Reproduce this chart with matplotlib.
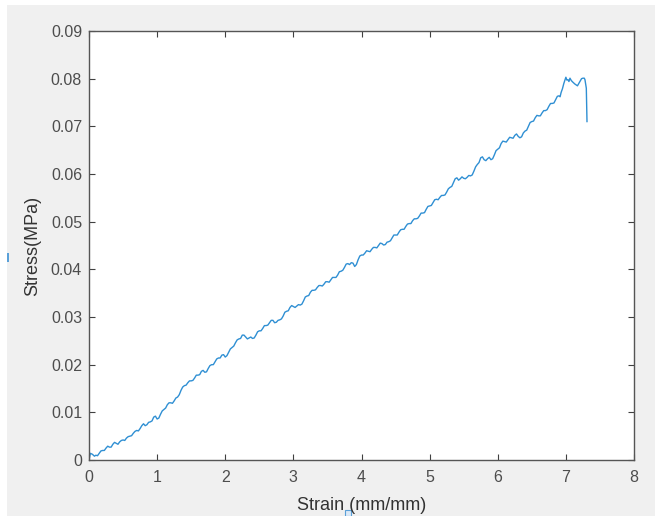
import matplotlib
matplotlib.use("Agg")
import matplotlib.pyplot as plt
from matplotlib.patches import Rectangle

strain = [0.00, 0.02, 0.05, 0.08,
          0.100, 0.125, 0.150, 0.175, 0.200, 0.225, 0.250, 0.275, 0.300, 0.325, 0.350, 0.375,
          0.400, 0.425, 0.450, 0.475, 0.500, 0.525, 0.550, 0.575, 0.600, 0.625, 0.650, 0.675,
          0.700, 0.725, 0.750, 0.775, 0.800, 0.825, 0.850, 0.875, 0.900, 0.925, 0.950, 0.975,
          1.000, 1.025, 1.050, 1.075, 1.100, 1.125, 1.150, 1.175, 1.200, 1.225, 1.250, 1.275,
          1.300, 1.325, 1.350, 1.375, 1.400, 1.425, 1.450, 1.475, 1.500, 1.525, 1.550, 1.575,
          1.600, 1.625, 1.650, 1.675, 1.700, 1.725, 1.750, 1.775, 1.800, 1.825, 1.850, 1.875,
          1.900, 1.925, 1.950, 1.975, 2.000, 2.025, 2.050, 2.075, 2.100, 2.125, 2.150, 2.175,
          2.200, 2.225, 2.250, 2.275, 2.300, 2.325, 2.350, 2.375, 2.400, 2.425, 2.450, 2.475,
          2.500, 2.525, 2.550, 2.575, 2.600, 2.625, 2.650, 2.675, 2.700, 2.725, 2.750, 2.775,
          2.800, 2.825, 2.850, 2.875, 2.900, 2.925, 2.950, 2.975, 3.000, 3.025, 3.050, 3.075,
          3.100, 3.125, 3.150, 3.175, 3.200, 3.225, 3.250, 3.275, 3.300, 3.325, 3.350, 3.375,
          3.400, 3.425, 3.450, 3.475, 3.500, 3.525, 3.550, 3.575, 3.600, 3.625, 3.650, 3.675,
          3.700, 3.725, 3.750, 3.775, 3.800, 3.825, 3.850, 3.875, 3.900, 3.925, 3.950, 3.975,
          4.000, 4.025, 4.050, 4.075, 4.100, 4.125, 4.150, 4.175, 4.200, 4.225, 4.250, 4.275,
          4.300, 4.325, 4.350, 4.375, 4.400, 4.425, 4.450, 4.475, 4.500, 4.525, 4.550, 4.575,
          4.600, 4.625, 4.650, 4.675, 4.700, 4.725, 4.750, 4.775, 4.800, 4.825, 4.850, 4.875,
          4.900, 4.925, 4.950, 4.975, 5.000, 5.025, 5.050, 5.075, 5.100, 5.125, 5.150, 5.175,
          5.200, 5.225, 5.250, 5.275, 5.300, 5.325, 5.350, 5.375, 5.400, 5.425, 5.450, 5.475,
          5.500, 5.525, 5.550, 5.575, 5.600, 5.625, 5.650, 5.675, 5.700, 5.725, 5.750, 5.775,
          5.800, 5.825, 5.850, 5.875, 5.900, 5.925, 5.950, 5.975, 6.000, 6.025, 6.050, 6.075,
          6.100, 6.125, 6.150, 6.175, 6.200, 6.225, 6.250, 6.275, 6.300, 6.325, 6.350, 6.375,
          6.400, 6.425, 6.450, 6.475, 6.500, 6.525, 6.550, 6.575, 6.600, 6.625, 6.650, 6.675,
          6.700, 6.725, 6.750, 6.775, 6.800, 6.825, 6.850, 6.875, 6.900, 6.915, 6.930, 6.950,
          6.970, 7.000, 7.015, 7.030, 7.045, 7.060, 7.080, 7.100, 7.130, 7.170, 7.190, 7.210,
          7.230, 7.250, 7.270, 7.280, 7.300, 7.310]

stress = [0.0000, 0.0014, 0.0012, 0.0008,
          0.0010, 0.0009, 0.0014, 0.0019, 0.0020, 0.0020, 0.0025, 0.0029, 0.0027, 0.0027, 0.0033, 0.0037,
          0.0035, 0.0033, 0.0038, 0.0041, 0.0042, 0.0041, 0.0046, 0.0049, 0.0050, 0.0051, 0.0056, 0.0060,
          0.0062, 0.0061, 0.0066, 0.0072, 0.0076, 0.0072, 0.0074, 0.0079, 0.0080, 0.0082, 0.0090, 0.0092,
          0.0086, 0.0088, 0.0096, 0.0103, 0.0106, 0.0109, 0.0116, 0.0120, 0.0120, 0.0119, 0.0124, 0.0130,
          0.0132, 0.0137, 0.0146, 0.0153, 0.0156, 0.0157, 0.0162, 0.0166, 0.0166, 0.0167, 0.0172, 0.0178,
          0.0178, 0.0179, 0.0186, 0.0188, 0.0184, 0.0185, 0.0192, 0.0198, 0.0200, 0.0200, 0.0206, 0.0212,
          0.0214, 0.0214, 0.0220, 0.0221, 0.0216, 0.0219, 0.0226, 0.0233, 0.0236, 0.0239, 0.0246, 0.0252,
          0.0254, 0.0255, 0.0262, 0.0262, 0.0258, 0.0254, 0.0256, 0.0258, 0.0255, 0.0256, 0.0262, 0.0269,
          0.0271, 0.0271, 0.0276, 0.0282, 0.0282, 0.0283, 0.0288, 0.0293, 0.0293, 0.0288, 0.0289, 0.0293,
          0.0294, 0.0296, 0.0302, 0.0310, 0.0312, 0.0313, 0.0320, 0.0324, 0.0322, 0.0320, 0.0323, 0.0326,
          0.0325, 0.0327, 0.0334, 0.0342, 0.0344, 0.0345, 0.0352, 0.0356, 0.0356, 0.0357, 0.0362, 0.0366,
          0.0366, 0.0365, 0.0369, 0.0374, 0.0374, 0.0373, 0.0378, 0.0383, 0.0383, 0.0383, 0.0388, 0.0395,
          0.0396, 0.0398, 0.0404, 0.0411, 0.0412, 0.0410, 0.0414, 0.0413, 0.0406, 0.0410, 0.0420, 0.0428,
          0.0430, 0.0430, 0.0434, 0.0439, 0.0438, 0.0437, 0.0442, 0.0446, 0.0446, 0.0445, 0.0450, 0.0455,
          0.0454, 0.0451, 0.0452, 0.0457, 0.0458, 0.0460, 0.0466, 0.0472, 0.0472, 0.0472, 0.0478, 0.0483,
          0.0484, 0.0484, 0.0490, 0.0495, 0.0496, 0.0496, 0.0502, 0.0506, 0.0506, 0.0507, 0.0512, 0.0518,
          0.0518, 0.0519, 0.0526, 0.0532, 0.0533, 0.0534, 0.0540, 0.0546, 0.0547, 0.0546, 0.0551, 0.0555,
          0.0555, 0.0556, 0.0562, 0.0569, 0.0572, 0.0574, 0.0582, 0.0590, 0.0592, 0.0587, 0.0590, 0.0594,
          0.0591, 0.0590, 0.0593, 0.0597, 0.0596, 0.0598, 0.0606, 0.0615, 0.0620, 0.0624, 0.0634, 0.0636,
          0.0630, 0.0628, 0.0632, 0.0635, 0.0630, 0.0632, 0.0640, 0.0649, 0.0652, 0.0655, 0.0664, 0.0669,
          0.0668, 0.0667, 0.0672, 0.0677, 0.0676, 0.0675, 0.0681, 0.0684, 0.0679, 0.0676, 0.0678, 0.0686,
          0.0690, 0.0692, 0.0700, 0.0708, 0.0710, 0.0711, 0.0718, 0.0723, 0.0722, 0.0722, 0.0728, 0.0733,
          0.0733, 0.0735, 0.0742, 0.0748, 0.0748, 0.0749, 0.0756, 0.0763, 0.0764, 0.0762, 0.0771, 0.0779,
          0.0790, 0.0803, 0.0797, 0.0798, 0.0794, 0.0801, 0.0796, 0.0793, 0.0789, 0.0785, 0.0790, 0.0795,
          0.0800, 0.0801, 0.0801, 0.0798, 0.0780, 0.0710]

xticks = [0, 1, 2, 3, 4, 5, 6, 7, 8]
yticks = [0, 0.01, 0.02, 0.03, 0.04, 0.05, 0.06, 0.07, 0.08, 0.09]
ytick_labels = ["0", "0.01", "0.02", "0.03", "0.04", "0.05", "0.06", "0.07", "0.08", "0.09"]

plt.rcParams['font.family'] = ['Liberation Sans', 'DejaVu Sans']

fig = plt.figure(figsize=(6.55, 5.16), dpi=100)
fig.patch.set_facecolor('#f0f0f0')
# white strips along the top and left edges
fig.patches.append(Rectangle((0, 1 - 5 / 516), 1, 5 / 516,
                             transform=fig.transFigure, facecolor='white',
                             edgecolor='none', zorder=-5))
fig.patches.append(Rectangle((0, 0), 7 / 655, 1,
                             transform=fig.transFigure, facecolor='white',
                             edgecolor='none', zorder=-5))
# small resize-handle artifacts
fig.patches.append(Rectangle((7 / 655, 1 - 262 / 516), 1.5 / 655, 9 / 516,
                             transform=fig.transFigure, facecolor='#5aa0d8',
                             edgecolor='none', zorder=-4))
fig.patches.append(Rectangle((345 / 655, 0), 6 / 655, 6 / 516,
                             transform=fig.transFigure, facecolor='#dbe9f7',
                             edgecolor='#5aa0d8', lw=0.8, zorder=-4))

ax = fig.add_axes([89 / 655, 1 - 460 / 516, 545 / 655, 429 / 516])
ax.set_zorder(1)
ax.set_facecolor('white')
ax.plot(strain, stress, color='#2f8fd3', lw=1.0)

ax.set_xlim(0, 8)
ax.set_ylim(0, 0.09)
ax.set_xticks(xticks)
ax.set_yticks(yticks)
ax.set_yticklabels(ytick_labels)
ax.tick_params(direction='in', length=4, width=0.8, color='#404040',
               labelcolor='#4d4d4d', labelsize=11.5, top=True, right=True, pad=5)
ax.tick_params(axis='x', pad=7)
for s in ax.spines.values():
    s.set_color('#555555')
    s.set_linewidth(1.0)

ax.set_xlabel('Strain (mm/mm)', fontsize=13, color='#333333', labelpad=9)
ax.set_ylabel('Stress(MPa)', fontsize=13, color='#333333', labelpad=7)

fig.savefig('out.png', dpi=100, facecolor=fig.get_facecolor())
